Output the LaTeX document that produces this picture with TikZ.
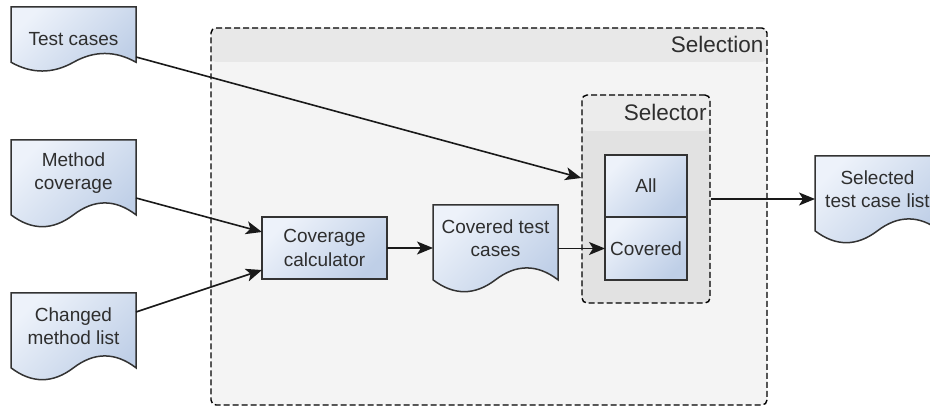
\documentclass[tikz,border=0pt]{standalone}
\usepackage{fontspec}
\setmainfont{Liberation Sans}
\usepackage{xcolor}
\usetikzlibrary{calc, arrows.meta, positioning}

\definecolor{edge}{HTML}{333333}
\definecolor{txt}{HTML}{2E2E2E}
\definecolor{boxA}{HTML}{EDF2FA}
\definecolor{boxB}{HTML}{BFCFE7}
\definecolor{outerbody}{HTML}{F4F4F4}
\definecolor{outerhead}{HTML}{E8E8E8}
\definecolor{innerbody}{HTML}{E2E2E2}
\definecolor{innerhead}{HTML}{ECECEC}

\newcommand{\boxfont}{\fontsize{19}{23.5}\selectfont}
\newcommand{\headfont}{\fontsize{22.5}{26}\selectfont}

\pgfdeclarelayer{back}
\pgfsetlayers{back,main}

\tikzset{
	boxtext/.style={align=center, font=\boxfont, text=txt, inner sep=2pt, outer sep=0pt},
	blueshade/.style={draw=edge, line width=1.5pt, top color=boxA, bottom color=boxB, shading angle=45},
	proc/.style={boxtext, blueshade, minimum width=125pt, minimum height=62pt},
	doc/.style={boxtext, minimum width=125pt, minimum height=66pt,
		append after command={\pgfextra{
			\begin{pgfonlayer}{back}
				\draw [blueshade, shift={(\tikzlastnode.north west)}] (0,0) -- (125,0) -- (125,{-0.85*#1})
					.. controls (104.2,{-0.67*#1}) and (83.3,{-0.67*#1}) .. (62.5,{-0.85*#1})
					.. controls (41.7,{-1.03*#1}) and (20.8,{-1.03*#1}) .. (0,{-0.85*#1}) -- cycle;
			\end{pgfonlayer}
		}}},
	groupbox/.style={draw=black, line width=1.4pt, dash pattern=on 6pt off 3pt, rounded corners=5pt},
	head/.style={font=\headfont, text=txt, anchor=north east, inner xsep=4pt, inner ysep=0pt},
	flow/.style={draw=black!90, line width=1.6pt, -{Stealth[length=16pt, width=13pt, inset=4pt]}},
}

\begin{document}
\begin{tikzpicture}[x=1pt, y=1pt]
	\useasboundingbox (0,0) rectangle (930,407);

	\begin{pgfonlayer}{back}
		\node [groupbox, fill=outerbody, minimum width=556pt, minimum height=377pt,
			path picture={\fill [outerhead] (path picture bounding box.north west) rectangle ([yshift=-34pt]path picture bounding box.north east);}]
			(selection) at (489,190.5) {};
		\node [head, minimum height=34pt] (selectionhead) at (selection.north east) {Selection};

		\node [groupbox, fill=innerbody, minimum width=128pt, minimum height=208pt,
			path picture={\fill [innerhead] (path picture bounding box.north west) rectangle ([yshift=-36pt]path picture bounding box.north east);}]
			(selector) at (646,208) {};
		\node [head, minimum height=36pt] (selectorhead) at (selector.north east) {Selector};
	\end{pgfonlayer}

	\node [doc=65, minimum height=65pt] (tests) at (73.5,367.5) {Test cases};
	\node [doc=88] (coverage) at (73.5,234) {Method\\coverage};
	\node [doc=88] (changed) at (73.5,81) {Changed\\method list};
	\node [doc=88] (covtests) at (495.5,169) {Covered test\\cases};
	\node [doc=88] (result) at (877.5,218) {Selected\\test case list};

	\node [proc] (calc) at (324.5,159) {Coverage\\calculator};
	\node [proc, minimum width=82pt] (all) at (646,221) {All};
	\node [proc, minimum width=82pt, minimum height=63pt, below=0pt of all] (covered) {Covered};

	\draw [flow] ([yshift=-17.5pt]tests.east) -- ([yshift=21pt]selector.west);
	\draw [flow] ([yshift=-25pt]coverage.east) -- ([yshift=16pt]calc.west);
	\draw [flow] ([yshift=14pt]changed.east) -- ([yshift=-22pt]calc.west);

	\draw [flow] (calc.east) -- (calc.east -| covtests.west);
	\draw [flow] (covtests.east |- covered) -- (covered.west);

	\draw [flow] (selector.east) -- (selector.east -| result.west);
\end{tikzpicture}
\end{document}
